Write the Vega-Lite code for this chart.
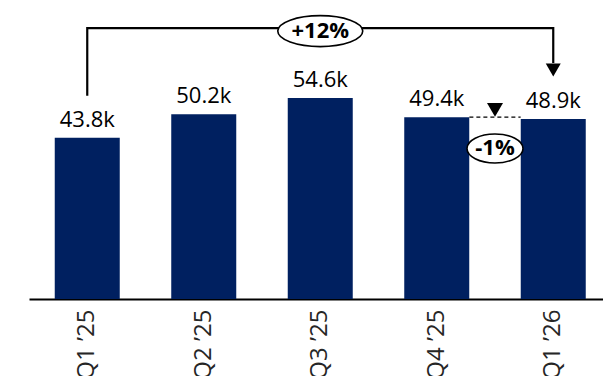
{
  "$schema": "https://vega.github.io/schema/vega-lite/v6.json",
  "width": 582.5,
  "height": 299,
  "autosize": {"type": "none"},
  "padding": {"left": 29, "top": 0, "right": 0, "bottom": 77},
  "background": "white",
  "config": {"view": {"stroke": null}},
  "resolve": {"scale": {"x": "independent"}, "axis": {"x": "independent"}},
  "layer": [
    {
      "data": {"values": [
        {"quarter": "Q1 ’25", "value": 43.8, "label": "43.8k"},
        {"quarter": "Q2 ’25", "value": 50.2, "label": "50.2k"},
        {"quarter": "Q3 ’25", "value": 54.6, "label": "54.6k"},
        {"quarter": "Q4 ’25", "value": 49.4, "label": "49.4k"},
        {"quarter": "Q1 ’26", "value": 48.9, "label": "48.9k"}
      ]},
      "encoding": {
        "x": {
          "field": "quarter", "type": "nominal", "sort": null,
          "scale": {"paddingInner": 0.442, "paddingOuter": 0.221},
          "axis": {
            "title": null, "ticks": false, "grid": false,
            "domain": true, "domainColor": "#000000", "domainWidth": 2,
            "labelAngle": -90, "labelAlign": "right", "labelBaseline": "middle",
            "labelPadding": 10, "labelFontSize": 24, "labelFont": "Open Sans",
            "labelColor": "#262626", "labelOverlap": false, "labelBound": false, "labelFlush": false
          }
        },
        "y": {
          "field": "value", "type": "quantitative",
          "scale": {"domain": [0, 81.25], "nice": false, "zero": true},
          "axis": null
        }
      },
      "layer": [
        {"mark": {"type": "bar", "color": "#002060"}},
        {
          "mark": {"type": "text", "font": "Open Sans", "fontSize": 22, "color": "#000000", "baseline": "alphabetic", "dy": -11},
          "encoding": {"text": {"field": "label"}}
        }
      ]
    },
    {
      "layer": [
        {
          "data": {"values": [
            {"i": 1, "p": 0, "v": 55.2},
            {"i": 2, "p": 0, "v": 73.6},
            {"i": 3, "p": 4, "v": 73.6},
            {"i": 4, "p": 4, "v": 64.1}
          ]},
          "mark": {"type": "line", "color": "#000000", "strokeWidth": 2.2, "strokeJoin": "miter"},
          "encoding": {
            "x": {"field": "p", "type": "quantitative", "scale": {"domain": [-0.5, 4.5], "nice": false, "zero": false}, "axis": null},
            "y": {"field": "v", "type": "quantitative", "scale": {"domain": [0, 81.25], "nice": false}, "axis": null},
            "order": {"field": "i"}
          }
        },
        {
          "data": {"values": [{"p": 3.28, "p2": 3.72, "v": 49.4}]},
          "mark": {"type": "rule", "color": "#000000", "strokeWidth": 1.2, "strokeDash": [4, 3]},
          "encoding": {
            "x": {"field": "p", "type": "quantitative", "scale": {"domain": [-0.5, 4.5], "nice": false, "zero": false}, "axis": null},
            "x2": {"field": "p2"},
            "y": {"field": "v", "type": "quantitative", "axis": null}
          }
        },
        {
          "data": {"values": [
            {"p": 4, "v": 62.2, "s": "arrow"},
            {"p": 3.5, "v": 51.4, "s": "marker"}
          ]},
          "mark": {"type": "point", "shape": "triangle-down", "filled": true, "color": "#000000", "opacity": 1},
          "encoding": {
            "x": {"field": "p", "type": "quantitative", "scale": {"domain": [-0.5, 4.5], "nice": false, "zero": false}, "axis": null},
            "y": {"field": "v", "type": "quantitative", "axis": null},
            "size": {"field": "s", "type": "nominal", "scale": {"domain": ["arrow", "marker"], "range": [225, 256]}, "legend": null}
          }
        },
        {
          "data": {"values": [{"p": 2, "v": 72.8}]},
          "mark": {
            "type": "point", "filled": false, "fill": "white", "fillOpacity": 1, "stroke": "#000000", "strokeWidth": 1.6, "opacity": 1, "size": 7225,
            "shape": "M-1,0 C-1,-0.2016 -0.5523,-0.365 0,-0.365 C0.5523,-0.365 1,-0.2016 1,0 C1,0.2016 0.5523,0.365 0,0.365 C-0.5523,0.365 -1,0.2016 -1,0 Z"
          },
          "encoding": {
            "x": {"field": "p", "type": "quantitative", "scale": {"domain": [-0.5, 4.5], "nice": false, "zero": false}, "axis": null},
            "y": {"field": "v", "type": "quantitative", "axis": null}
          }
        },
        {
          "data": {"values": [{"p": 3.5, "v": 40.9}]},
          "mark": {
            "type": "point", "filled": false, "fill": "white", "fillOpacity": 1, "stroke": "#000000", "strokeWidth": 1.6, "opacity": 1, "size": 3136,
            "shape": "M-1,0 C-1,-0.286 -0.5523,-0.518 0,-0.518 C0.5523,-0.518 1,-0.286 1,0 C1,0.286 0.5523,0.518 0,0.518 C-0.5523,0.518 -1,0.286 -1,0 Z"
          },
          "encoding": {
            "x": {"field": "p", "type": "quantitative", "scale": {"domain": [-0.5, 4.5], "nice": false, "zero": false}, "axis": null},
            "y": {"field": "v", "type": "quantitative", "axis": null}
          }
        },
        {
          "data": {"values": [
            {"p": 2, "v": 72.9, "t": "+12%"},
            {"p": 3.5, "v": 40.9, "t": "-1%"}
          ]},
          "mark": {"type": "text", "font": "Open Sans", "fontSize": 22, "fontWeight": "bold", "color": "#000000", "baseline": "middle", "align": "center"},
          "encoding": {
            "x": {"field": "p", "type": "quantitative", "scale": {"domain": [-0.5, 4.5], "nice": false, "zero": false}, "axis": null},
            "y": {"field": "v", "type": "quantitative", "axis": null},
            "text": {"field": "t"}
          }
        }
      ]
    }
  ]
}
